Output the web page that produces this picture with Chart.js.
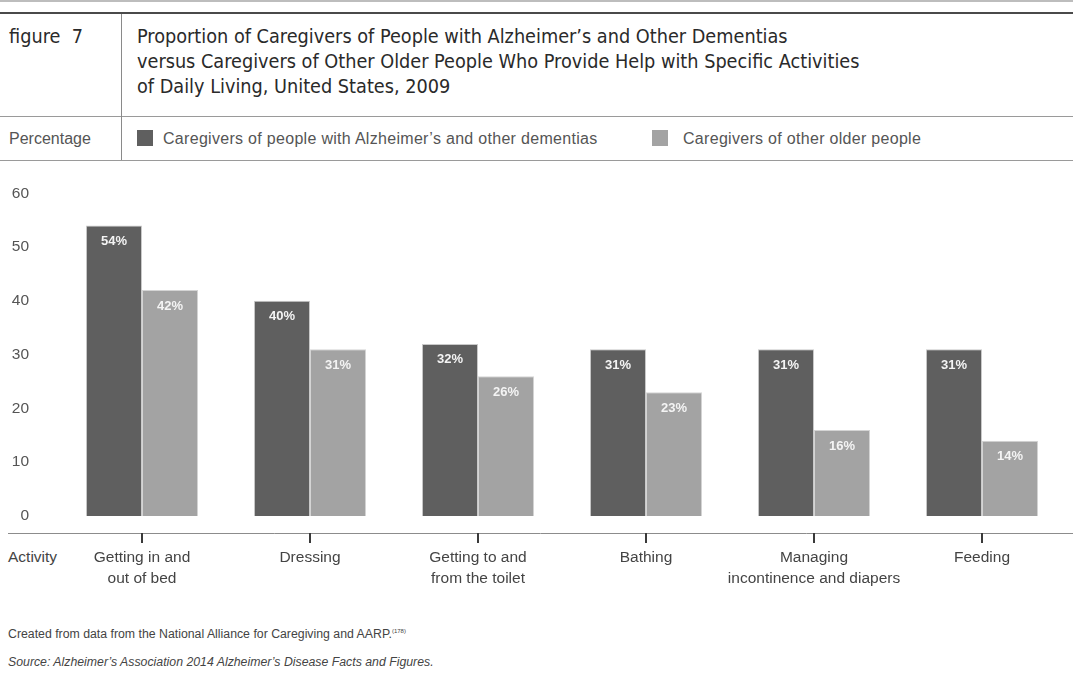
<!DOCTYPE html>
<html>
<head>
<meta charset="utf-8">
<script src="https://cdn.jsdelivr.net/npm/chart.js@4.4.1/dist/chart.umd.min.js"></script>
<style>
  html, body { margin: 0; padding: 0; background: #fff; }
  body { width: 1073px; height: 678px; position: relative; overflow: hidden;
         font-family: "Liberation Sans", Arial, sans-serif; color: #444; }
  .abs { position: absolute; white-space: nowrap; }
  .rule { position: absolute; left: 0; width: 1073px; }
  .cond { font-family: "Liberation Sans Narrow", "DejaVu Sans Condensed", "Liberation Sans", sans-serif; color: #2a2a2a; font-size: 19.7px; }
  .leg { font-size: 16px; line-height: 18px; color: #555; letter-spacing: 0.3px; }
  .sq { position: absolute; width: 16px; height: 16px; }
  #chartBox { position: absolute; left: 0; top: 155px; width: 1073px; height: 445px; }
</style>
</head>
<body>
<div class="rule" style="top:0;height:2px;background:#bdbdbd"></div>
<div class="rule" style="top:12px;height:2px;background:#4a4a4a"></div>
<div class="rule" style="top:116px;height:1px;background:#9a9a9a"></div>
<div class="rule" style="top:160px;height:1px;background:#9a9a9a"></div>
<div style="position:absolute;left:121px;top:14px;width:1px;height:146px;background:#8a8a8a"></div>

<div class="abs cond" style="left:9px;top:25px;line-height:24px">figure&nbsp; 7</div>
<div class="abs cond" style="left:137px;top:24px;line-height:25px">
  Proportion of Caregivers of People with Alzheimer’s and Other Dementias<br>
  versus Caregivers of Other Older People Who Provide Help with Specific Activities<br>
  of Daily Living, United States, 2009
</div>

<div class="abs leg" style="left:9px;top:130px;letter-spacing:0">Percentage</div>
<div class="sq" style="left:137px;top:130px;background:#5f5f5f"></div>
<div class="abs leg" style="left:163px;top:130px">Caregivers of people with Alzheimer’s and other dementias</div>
<div class="sq" style="left:652px;top:130px;background:#a3a3a3"></div>
<div class="abs leg" style="left:683px;top:130px">Caregivers of other older people</div>

<div class="abs" style="left:8px;top:548px;font-size:15.5px;line-height:18px;color:#444">Activity</div>

<div class="abs" style="left:8px;top:623px;font-size:12.3px;line-height:16px;color:#444">Created from data from the National Alliance for Caregiving and AARP.<sup style="font-size:6px">(178)</sup></div>
<div class="abs" style="left:8px;top:654px;font-size:12.3px;line-height:16px;color:#444;font-style:italic">Source: Alzheimer’s Association 2014 Alzheimer’s Disease Facts and Figures.</div>

<div id="chartBox"><canvas id="myChart"></canvas></div>

<script>
var activities = [
  ["Getting in and", "out of bed"],
  "Dressing",
  ["Getting to and", "from the toilet"],
  "Bathing",
  ["Managing", "incontinence and diapers"],
  "Feeding"
];
var dementiaCaregivers = [54, 40, 32, 31, 31, 31];
var otherCaregivers = [42, 31, 26, 23, 16, 14];
var yTicks = [0, 10, 20, 30, 40, 50, 60];

// white percentage labels just under each bar top
var barLabels = {
  id: 'barLabels',
  afterDatasetsDraw(chart) {
    let ctx = chart.ctx;
    ctx.save();
    ctx.font = 'bold 13px "Liberation Sans", Arial, sans-serif';
    ctx.fillStyle = '#f4f4f4';
    ctx.textAlign = 'center';
    ctx.textBaseline = 'middle';
    chart.data.datasets.forEach((ds, i) => {
      chart.getDatasetMeta(i).data.forEach((bar, j) => {
        ctx.fillText(ds.data[j] + '%', bar.x, bar.y + 16);
      });
    });
    ctx.restore();
  }
};

// the x axis line sits a bit below the bars, with a tick at each group
var axisLine = {
  id: 'axisLine',
  afterDraw(chart) {
    let ctx = chart.ctx;
    let x = chart.scales.x;
    let y0 = chart.chartArea.bottom + 17;
    ctx.save();
    ctx.strokeStyle = '#8c8c8c';
    ctx.lineWidth = 1;
    ctx.beginPath();
    ctx.moveTo(8, y0 + 0.5);
    ctx.lineTo(chart.width, y0 + 0.5);
    ctx.stroke();
    ctx.strokeStyle = '#3a3a3a';
    ctx.lineWidth = 2;
    for (let i = 0; i < activities.length; i++) {
      let px = Math.round(x.getPixelForValue(i));
      ctx.beginPath();
      ctx.moveTo(px, y0);
      ctx.lineTo(px, y0 + 10);
      ctx.stroke();
    }
    ctx.restore();
  }
};

new Chart("myChart", {
  type: "bar",
  data: {
    labels: activities,
    datasets: [{
      label: "Caregivers of people with Alzheimer’s and other dementias",
      data: dementiaCaregivers,
      backgroundColor: "#5f5f5f",
      borderColor: "#c9c9c9",
      borderWidth: 1
    }, {
      label: "Caregivers of other older people",
      data: otherCaregivers,
      backgroundColor: "#a3a3a3",
      borderColor: "#d4d4d4",
      borderWidth: 1
    }]
  },
  plugins: [barLabels, axisLine],
  options: {
    responsive: true,
    maintainAspectRatio: false,
    animation: false,
    layout: { padding: { left: 0, right: 7, top: 6, bottom: 0 } },
    datasets: { bar: { categoryPercentage: 0.667, barPercentage: 1 } },
    plugins: {
      legend: { display: false },
      title: { display: false },
      tooltip: { enabled: false }
    },
    scales: {
      x: {
        grid: { display: false, drawTicks: false },
        border: { display: false },
        afterFit: (scale) => { scale.height = 84; },
        ticks: {
          padding: 32,
          autoSkip: false,
          maxRotation: 0,
          color: '#444',
          font: { family: '"Liberation Sans", Arial, sans-serif', size: 15.5, lineHeight: 1.3 }
        }
      },
      y: {
        min: 0,
        max: 60,
        grid: { display: false, drawTicks: false },
        border: { display: false },
        afterFit: (scale) => { scale.width = 58; },
        afterBuildTicks: (scale) => { scale.ticks = yTicks.map(v => ({ value: v })); },
        ticks: {
          padding: 29,
          color: '#555',
          font: { family: '"Liberation Sans", Arial, sans-serif', size: 15.5 }
        }
      }
    }
  }
});
</script>
</body>
</html>
